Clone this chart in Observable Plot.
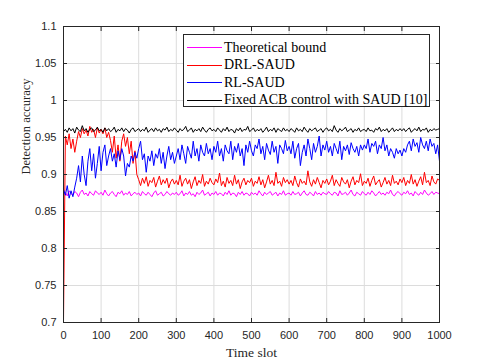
<!DOCTYPE html>
<html>
<head>
<meta charset="utf-8">
<script src="https://cdn.jsdelivr.net/npm/d3@7"></script>
<script src="https://cdn.jsdelivr.net/npm/@observablehq/plot@0.6"></script>
<style>
  html, body { margin: 0; padding: 0; background: #fff; }
  #wrap { position: relative; width: 485px; height: 363px; }
  #legend { position: absolute; left: 183px; top: 34px; width: 247px; height: 73px;
    border: 1px solid #262626; background: #fff; box-sizing: border-box;
    font-family: "Liberation Serif", "Times New Roman", serif; font-size: 14px; color: #000; }
  .row { position: absolute; left: 0; height: 17px; display: flex; align-items: center; white-space: nowrap; }
  .sw { flex: none; width: 35px; height: 1px; margin-left: 3px; margin-right: 2px; }
</style>
</head>
<body>
<div id="wrap"></div>
<script>
// time slots sampled every 5 slots, 0..1000
const step = 5;
const theoretical = [
0.873,0.876,0.871,0.878,0.874,0.872,0.877,0.875,0.870,0.876,0.879,0.873,0.875,0.871,0.877,0.874,0.872,0.878,0.875,0.873,
0.876,0.872,0.879,0.874,0.871,0.875,0.877,0.873,0.870,0.876,0.874,0.878,0.872,0.875,0.873,0.877,0.871,0.874,0.876,0.873,
0.875,0.871,0.877,0.874,0.872,0.876,0.873,0.870,0.875,0.878,0.872,0.874,0.876,0.871,0.873,0.877,0.874,0.872,0.875,0.873,
0.876,0.872,0.874,0.878,0.871,0.875,0.873,0.877,0.872,0.874,0.870,0.876,0.873,0.875,0.879,0.872,0.874,0.876,0.871,0.875,
0.873,0.877,0.872,0.875,0.874,0.871,0.876,0.873,0.878,0.872,0.875,0.874,0.870,0.876,0.873,0.877,0.872,0.875,0.874,0.871,
0.876,0.873,0.875,0.872,0.878,0.874,0.871,0.876,0.873,0.875,0.877,0.872,0.874,0.876,0.871,0.875,0.873,0.878,0.872,0.874,
0.875,0.872,0.877,0.873,0.874,0.876,0.871,0.875,0.878,0.873,0.872,0.876,0.874,0.871,0.877,0.873,0.875,0.872,0.876,0.874,
0.873,0.877,0.874,0.872,0.876,0.875,0.871,0.878,0.873,0.874,0.876,0.872,0.875,0.879,0.873,0.871,0.876,0.874,0.872,0.877,
0.874,0.872,0.876,0.873,0.878,0.875,0.871,0.874,0.877,0.873,0.875,0.872,0.876,0.874,0.879,0.873,0.871,0.875,0.877,0.874,
0.872,0.876,0.874,0.878,0.873,0.875,0.871,0.877,0.874,0.872,0.876,0.873,0.879,0.875,0.872,0.874,0.877,0.873,0.876,0.875,
0.874];
const drlSaud = [
0.700,0.952,0.940,0.955,0.935,0.948,0.930,0.945,0.958,0.950,0.962,0.955,0.960,0.952,0.965,0.957,0.961,0.950,0.963,0.956,
0.961,0.955,0.963,0.950,0.957,0.946,0.930,0.952,0.922,0.940,0.918,0.945,0.955,0.938,0.950,0.928,0.945,0.915,0.932,0.900,
0.893,0.885,0.895,0.888,0.897,0.884,0.892,0.889,0.896,0.883,0.891,0.898,0.886,0.893,0.888,0.895,0.882,0.890,0.894,0.887,
0.892,0.886,0.899,0.884,0.891,0.895,0.887,0.893,0.881,0.890,0.897,0.885,0.892,0.888,0.900,0.884,0.891,0.887,0.895,0.889,
0.886,0.894,0.889,0.902,0.885,0.891,0.883,0.896,0.888,0.892,0.885,0.899,0.887,0.893,0.881,0.890,0.895,0.886,0.892,0.889,
0.895,0.884,0.891,0.888,0.897,0.886,0.893,0.882,0.890,0.899,0.887,0.892,0.885,0.903,0.888,0.891,0.884,0.896,0.889,0.893,
0.887,0.892,0.885,0.898,0.889,0.883,0.894,0.888,0.891,0.886,0.905,0.890,0.884,0.893,0.887,0.896,0.889,0.882,0.892,0.888,
0.894,0.886,0.891,0.899,0.885,0.893,0.888,0.884,0.896,0.890,0.887,0.893,0.882,0.891,0.897,0.886,0.892,0.889,0.901,0.885,
0.891,0.888,0.895,0.884,0.892,0.898,0.886,0.890,0.893,0.883,0.889,0.896,0.887,0.892,0.885,0.899,0.888,0.891,0.886,0.894,
0.889,0.896,0.885,0.892,0.888,0.900,0.887,0.893,0.884,0.891,0.897,0.886,0.903,0.889,0.892,0.885,0.898,0.890,0.887,0.894,
0.892];
const rlSaud = [
0.880,0.872,0.885,0.868,0.878,0.870,0.883,0.895,0.912,0.890,0.925,0.900,0.885,0.918,0.935,0.905,0.928,0.895,0.915,0.938,
0.905,0.930,0.940,0.912,0.925,0.935,0.918,0.928,0.910,0.932,0.920,0.935,0.925,0.898,0.915,0.910,0.925,0.918,0.930,0.922,
0.935,0.945,0.920,0.928,0.903,0.925,0.918,0.932,0.912,0.928,0.922,0.935,0.915,0.930,0.908,0.925,0.938,0.920,0.930,0.915,
0.925,0.935,0.920,0.940,0.928,0.915,0.938,0.930,0.922,0.945,0.925,0.935,0.918,0.940,0.930,0.925,0.942,0.928,0.935,0.920,
0.938,0.930,0.945,0.925,0.935,0.918,0.940,0.932,0.928,0.945,0.920,0.938,0.930,0.942,0.925,0.935,0.912,0.940,0.930,0.945,
0.932,0.925,0.940,0.935,0.948,0.928,0.938,0.920,0.942,0.933,0.927,0.945,0.930,0.938,0.915,0.940,0.935,0.928,0.946,0.932,
0.938,0.928,0.945,0.922,0.935,0.942,0.912,0.930,0.940,0.925,0.948,0.935,0.920,0.942,0.930,0.938,0.952,0.925,0.940,0.933,
0.945,0.930,0.938,0.925,0.942,0.935,0.928,0.945,0.920,0.938,0.932,0.940,0.927,0.943,0.935,0.930,0.938,0.925,0.940,0.933,
0.940,0.935,0.948,0.930,0.942,0.938,0.945,0.928,0.940,0.935,0.950,0.932,0.940,0.925,0.935,0.930,0.922,0.935,0.928,0.933,
0.925,0.935,0.930,0.940,0.945,0.932,0.948,0.938,0.943,0.930,0.950,0.940,0.935,0.945,0.932,0.948,0.938,0.942,0.928,0.940,
0.918];
const fixedAcb = [
0.958,0.961,0.957,0.963,0.959,0.962,0.956,0.964,0.960,0.958,0.966,0.959,0.962,0.957,0.961,0.963,0.958,0.960,0.964,0.959,
0.961,0.957,0.963,0.959,0.962,0.958,0.960,0.964,0.957,0.961,0.959,0.963,0.958,0.962,0.960,0.956,0.961,0.963,0.958,0.960,
0.962,0.958,0.961,0.959,0.964,0.957,0.960,0.962,0.958,0.963,0.959,0.961,0.957,0.962,0.960,0.964,0.958,0.961,0.959,0.963,
0.960,0.957,0.962,0.959,0.961,0.965,0.958,0.960,0.963,0.957,0.961,0.959,0.962,0.958,0.964,0.960,0.957,0.961,0.963,0.959,
0.961,0.958,0.963,0.960,0.957,0.962,0.959,0.964,0.958,0.961,0.960,0.956,0.962,0.959,0.963,0.958,0.961,0.960,0.965,0.958,
0.960,0.963,0.958,0.961,0.959,0.962,0.957,0.960,0.964,0.958,0.961,0.959,0.963,0.957,0.962,0.960,0.958,0.963,0.959,0.961,
0.958,0.962,0.960,0.957,0.963,0.959,0.961,0.958,0.964,0.960,0.957,0.962,0.959,0.961,0.963,0.958,0.960,0.962,0.957,0.961,
0.963,0.959,0.961,0.958,0.966,0.960,0.957,0.962,0.959,0.961,0.964,0.958,0.960,0.962,0.957,0.961,0.959,0.963,0.958,0.960,
0.961,0.958,0.963,0.959,0.960,0.957,0.962,0.960,0.964,0.958,0.961,0.959,0.962,0.957,0.960,0.963,0.958,0.961,0.959,0.962,
0.959,0.962,0.958,0.961,0.963,0.957,0.960,0.962,0.959,0.964,0.958,0.961,0.960,0.963,0.957,0.961,0.959,0.962,0.960,0.961,
0.962];
const seriesNames = ["Theoretical bound", "DRL-SAUD", "RL-SAUD", "Fixed ACB control with SAUD [10]"];
const seriesColors = ["#ff00ff", "#ff0000", "#0000ff", "#000000"];
const xTicks = [0, 100, 200, 300, 400, 500, 600, 700, 800, 900, 1000];
const yTicks = [0.7, 0.75, 0.8, 0.85, 0.9, 0.95, 1, 1.05, 1.1];

const allSeries = [theoretical, drlSaud, rlSaud, fixedAcb];
const rows = [];
allSeries.forEach((vals, si) => vals.forEach((v, i) => rows.push({t: i * step, v, s: seriesNames[si]})));

const fmt = d => String(Math.round(d * 100) / 100);

const chart = Plot.plot({
  width: 485, height: 363,
  marginLeft: 63, marginRight: 46, marginTop: 26, marginBottom: 41,
  style: {background: "#fff", color: "#262626", fontFamily: "Liberation Sans, Arial, sans-serif", fontSize: "11px"},
  x: {domain: [0, 1000], ticks: xTicks},
  y: {domain: [0.7, 1.1], ticks: yTicks},
  color: {domain: seriesNames, range: seriesColors},
  marks: [
    Plot.gridX(xTicks, {stroke: "#dcdcdc", strokeOpacity: 1}),
    Plot.gridY(yTicks, {stroke: "#dcdcdc", strokeOpacity: 1}),
    Plot.lineY(rows, {x: "t", y: "v", z: "s", stroke: "s", strokeWidth: 1}),
    Plot.axisX(xTicks, {anchor: "bottom", tickSize: -4, tickPadding: 13, tickFormat: fmt, stroke: "#262626", label: null, fill: "#262626"}),
    Plot.axisX(xTicks, {anchor: "top", tickSize: -4, tickFormat: () => "", stroke: "#262626", label: null}),
    Plot.axisY(yTicks, {anchor: "left", tickSize: -4, tickPadding: 11, tickFormat: fmt, stroke: "#262626", label: null, fill: "#262626"}),
    Plot.axisY(yTicks, {anchor: "right", tickSize: -4, tickFormat: () => "", stroke: "#262626", label: null}),
    Plot.frame({stroke: "#262626", strokeWidth: 1}),
    Plot.text(["Time slot"], {frameAnchor: "bottom", dy: 30, fontFamily: "Liberation Serif, Times New Roman, serif", fontSize: 13.5, fill: "#262626", lineAnchor: "middle"}),
    Plot.text(["Detection accuracy"], {frameAnchor: "left", dx: -38, rotate: -90, fontFamily: "Liberation Serif, Times New Roman, serif", fontSize: 12.5, fill: "#262626"})
  ]
});
const wrap = document.getElementById("wrap");
wrap.appendChild(chart);

const legend = document.createElement("div");
legend.id = "legend";
const rowTops = [4, 21.5, 39, 56.5];
seriesNames.forEach((name, i) => {
  const r = document.createElement("div");
  r.className = "row";
  r.style.top = rowTops[i] + "px";
  const sw = document.createElement("div");
  sw.className = "sw";
  sw.style.background = seriesColors[i];
  const tx = document.createElement("span");
  tx.textContent = name;
  r.appendChild(sw); r.appendChild(tx);
  legend.appendChild(r);
});
wrap.appendChild(legend);
</script>
</body>
</html>
